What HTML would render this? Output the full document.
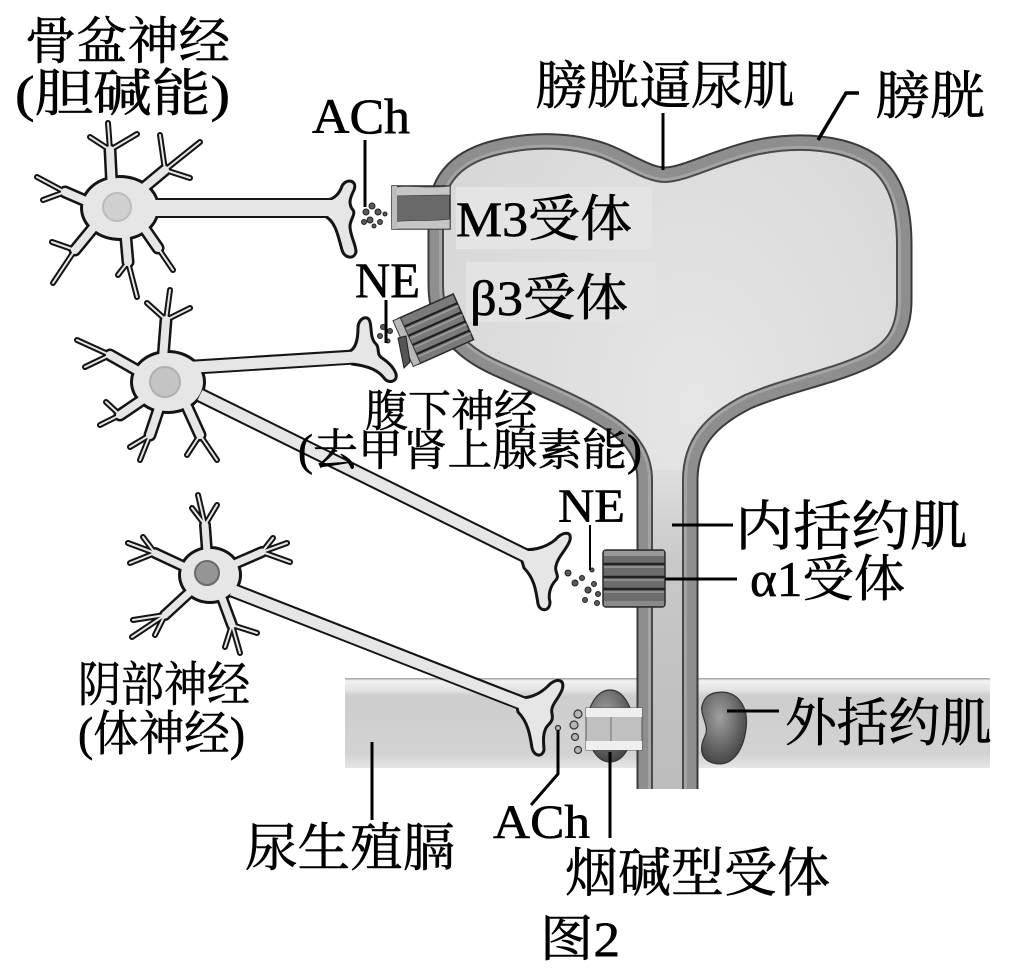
<!DOCTYPE html>
<html><head><meta charset="utf-8">
<style>
html,body{margin:0;padding:0;background:#fff;}
svg{display:block;}
text{font-family:"Liberation Serif","Noto Serif CJK SC",serif;fill:#000;stroke:#000;stroke-width:0.6;}
</style></head><body>
<svg width="1033" height="975" viewBox="0 0 1033 975" xmlns="http://www.w3.org/2000/svg">
<defs>
 <linearGradient id="dia" x1="0" y1="0" x2="0" y2="1">
  <stop offset="0" stop-color="#9a9a9a"/>
  <stop offset="0.03" stop-color="#f2f2f2"/>
  <stop offset="0.13" stop-color="#e4e4e4"/>
  <stop offset="0.2" stop-color="#cdcdcd"/>
  <stop offset="0.85" stop-color="#d3d3d3"/>
  <stop offset="1" stop-color="#e6e6e6"/>
 </linearGradient>
 <linearGradient id="ure" x1="0" y1="0" x2="0" y2="1">
  <stop offset="0" stop-color="#dedede"/>
  <stop offset="0.3" stop-color="#c8c8c8"/>
  <stop offset="1" stop-color="#bcbcbc"/>
 </linearGradient>
 <radialGradient id="kid" cx="0.4" cy="0.35" r="0.65">
  <stop offset="0" stop-color="#a0a0a0"/>
  <stop offset="1" stop-color="#474747"/>
 </radialGradient>
 <radialGradient id="blad" cx="0.55" cy="0.4" r="0.6">
  <stop offset="0" stop-color="#e6e6e6"/>
  <stop offset="1" stop-color="#d8d8d8"/>
 </radialGradient>
</defs>

<!-- urogenital diaphragm -->
<rect x="345" y="678" width="645" height="90" fill="url(#dia)"/>

<!-- bladder + urethra -->
<g>
 <path d="M652,790 L652,480 C652,455 640,435 615,418 C585,398 540,380 500,362 C462,345 443,322 443,285 L443,215 C443,180 465,162 500,154 C535,146 570,147 600,157 C625,166 645,182 665,182 C685,182 715,165 755,155 C800,145 845,150 870,168 C892,185 897,215 897,245 L897,300 C897,330 885,345 862,355 C830,370 785,378 745,395 C705,415 683,440 683,480 L683,790 Z" fill="none" stroke="#3a3a3a" stroke-width="31" stroke-linejoin="round"/>
 <path d="M652,790 L652,480 C652,455 640,435 615,418 C585,398 540,380 500,362 C462,345 443,322 443,285 L443,215 C443,180 465,162 500,154 C535,146 570,147 600,157 C625,166 645,182 665,182 C685,182 715,165 755,155 C800,145 845,150 870,168 C892,185 897,215 897,245 L897,300 C897,330 885,345 862,355 C830,370 785,378 745,395 C705,415 683,440 683,480 L683,790 Z" fill="none" stroke="#8e8e8e" stroke-width="27" stroke-linejoin="round"/>
 <path d="M652,790 L652,480 C652,455 640,435 615,418 C585,398 540,380 500,362 C462,345 443,322 443,285 L443,215 C443,180 465,162 500,154 C535,146 570,147 600,157 C625,166 645,182 665,182 C685,182 715,165 755,155 C800,145 845,150 870,168 C892,185 897,215 897,245 L897,300 C897,330 885,345 862,355 C830,370 785,378 745,395 C705,415 683,440 683,480 L683,790 Z" fill="none" stroke="#a4a4a4" stroke-width="8" stroke-linejoin="round"/>
 <path d="M652,790 L652,480 C652,455 640,435 615,418 C585,398 540,380 500,362 C462,345 443,322 443,285 L443,215 C443,180 465,162 500,154 C535,146 570,147 600,157 C625,166 645,182 665,182 C685,182 715,165 755,155 C800,145 845,150 870,168 C892,185 897,215 897,245 L897,300 C897,330 885,345 862,355 C830,370 785,378 745,395 C705,415 683,440 683,480 L683,790 Z" fill="url(#blad)" stroke="none"/>
 <rect x="652" y="470" width="31" height="320" fill="url(#ure)"/>
 <rect x="456" y="187" width="196" height="62" fill="#e4e4e4"/>
 <rect x="466" y="262" width="190" height="60" fill="#e3e3e3"/>
 <path d="M652,790 L652,480 C652,455 640,435 615,418 C585,398 540,380 500,362 C462,345 443,322 443,285 L443,215 C443,180 465,162 500,154 C535,146 570,147 600,157 C625,166 645,182 665,182 C685,182 715,165 755,155 C800,145 845,150 870,168 C892,185 897,215 897,245 L897,300 C897,330 885,345 862,355 C830,370 785,378 745,395 C705,415 683,440 683,480 L683,790" fill="none" stroke="#4a4a4a" stroke-width="2"/>
 <rect x="620" y="789" width="95" height="22" fill="#fff"/>
</g>

<!-- external sphincter -->
<ellipse cx="610" cy="726" rx="23" ry="36" fill="url(#kid)" stroke="#333" stroke-width="1.2"/>
<path d="M714,693 C737,688 749,706 746,729 C743,752 731,768 713,763 C699,759 700,746 705,736 C710,726 700,716 702,706 C704,698 708,695 714,693 Z" fill="url(#kid)" stroke="#333" stroke-width="1.2"/>

<!-- nicotinic receptor -->
<rect x="586" y="708" width="56" height="42" fill="#c0c0c0" stroke="#555" stroke-width="1"/>
<rect x="586" y="708" width="56" height="9" fill="#efefef"/>
<rect x="586" y="741" width="56" height="9" fill="#efefef"/>
<line x1="611" y1="717" x2="611" y2="741" stroke="#888" stroke-width="1.5"/>

<!-- alpha1 receptor -->
<g>
 <rect x="603" y="550" width="62" height="57" rx="3" fill="#6d6d6d" stroke="#2c2c2c" stroke-width="1.5"/>
 <rect x="604" y="551" width="60" height="5" fill="#999"/>
 <path d="M603,564 H665 M603,577 H665 M603,589 H665" stroke="#222" stroke-width="2.5"/>
 <path d="M604,567 H664 M604,580 H664 M604,592 H664" stroke="#9a9a9a" stroke-width="1.5"/>
 <rect x="604" y="601" width="60" height="5" fill="#8a8a8a"/>
</g>

<!-- M3 receptor -->
<g>
 <rect x="392" y="186" width="58" height="43" fill="#696969" stroke="#2c2c2c" stroke-width="1.5"/>
 <path d="M392,188 C405,184 430,189 450,186 L450,195 L392,196 Z" fill="#c6c6c6" stroke="#444" stroke-width="0.8"/>
 <path d="M392,222 C410,219 430,222 450,219 L450,229 L392,229 Z" fill="#c6c6c6" stroke="#444" stroke-width="0.8"/>
 <rect x="392" y="186" width="5" height="43" fill="#bdbdbd"/>
</g>

<!-- beta3 receptor -->
<g transform="translate(436,329) rotate(-24)">
 <rect x="-30" y="-25" width="60" height="50" fill="#7a7a7a" stroke="#2a2a2a" stroke-width="1.5"/>
 <path d="M-30,-15 H30 M-30,-5 H30 M-30,5 H30 M-30,15 H30" stroke="#1e1e1e" stroke-width="2.2"/>
 <path d="M-30,-12 H30 M-30,-2 H30 M-30,8 H30 M-30,18 H30" stroke="#a5a5a5" stroke-width="1.2"/>
 <rect x="-36" y="-25" width="8" height="50" fill="#b8b8b8" stroke="#333" stroke-width="1"/>
</g>
<path d="M398,338 L406,336 L410,362 L404,368 Z" fill="#555" stroke="#222" stroke-width="1"/>

<!-- Neurons: dark layer -->
<g stroke-linecap="round" stroke-linejoin="round" fill="none" stroke="#141414">
 <path d="M112,190 L110,150 M135,195 L165,170 M95,205 L65,192 M98,222 L75,250 M125,228 L128,262 M140,222 L158,248" stroke-width="13"/>
 <path d="M110,150 L108,123 M110,150 L90,137 M110,150 L137,134 M165,170 L200,142 M165,170 L160,135 M165,170 L190,178 M65,192 L37,177 M65,192 L43,200 M75,250 L53,283 M75,250 L52,242 M128,262 L137,297 M128,262 L118,275 M158,248 L173,270" stroke-width="6"/>
 <path d="M140,208 L332,208" stroke-width="20" stroke-linecap="butt"/>
 <path d="M163,358 L166,320 M140,372 L110,355 M145,398 L120,415 M160,405 L150,435 M185,402 L200,435" stroke-width="13"/>
 <path d="M166,320 L170,290 M166,320 L147,303 M166,320 L190,308 M110,355 L77,340 M110,355 L85,367 M120,415 L100,425 M120,415 L106,402 M150,435 L140,460 M150,435 L130,447 M200,435 L217,460 M200,435 L187,455" stroke-width="6"/>
 <path d="M180,368 L354,357" stroke-width="15" stroke-linecap="butt"/>
 <path d="M200,395 L528,557" stroke-width="15" stroke-linecap="butt"/>
 <path d="M207,552 L205,525 M185,567 L155,553 M232,565 L262,552 M190,592 L165,615 M222,598 L232,625" stroke-width="12"/>
 <path d="M205,525 L198,495 M205,525 L192,508 M205,525 L217,505 M155,553 L128,543 M155,553 L130,563 M155,553 L143,537 M262,552 L287,543 M262,552 L290,562 M262,552 L273,538 M165,615 L132,637 M165,615 L133,620 M165,615 L155,635 M232,625 L240,653 M232,625 L257,633 M232,625 L225,647" stroke-width="6"/>
 <path d="M232,590 L524,704" stroke-width="15" stroke-linecap="butt"/>
</g>
<ellipse cx="120" cy="208" rx="40" ry="33" fill="#141414"/>
<ellipse cx="168" cy="382" rx="38" ry="32" fill="#141414"/>
<ellipse cx="210" cy="575" rx="32" ry="29" fill="#141414"/>

<!-- terminals -->
<g fill="#e6e6e6" stroke="#141414" stroke-width="3" stroke-linejoin="round">
 <path d="M325,200 C335,200 340,192 342,186 C346,178 358,180 354,190 C350,198 348,204 353,210 C356,214 350,220 350,226 C350,236 356,244 356,252 C354,260 344,258 342,250 C338,236 336,222 325,216 Z"/>
 <path d="M350,351 C356,348 358,338 358,328 C358,318 368,314 370,322 C372,330 370,338 376,344 C380,348 376,354 382,358 C388,362 394,368 396,374 C398,382 388,384 384,378 C378,370 368,366 352,364 Z"/>
 <path d="M518,548 C530,552 545,548 555,540 C562,532 572,530 570,540 C568,548 558,556 556,566 C554,572 560,575 556,580 C550,586 548,595 550,602 C550,612 540,612 538,604 C536,590 534,578 524,568 Z"/>
 <path d="M515,697 C528,700 540,694 548,686 C555,678 566,678 562,690 C558,700 550,705 552,714 C554,722 548,724 546,728 C542,736 544,745 544,750 C542,758 534,756 532,748 C530,735 528,722 518,712 Z"/>
</g>

<!-- Neurons: light layer -->
<g stroke-linecap="round" stroke-linejoin="round" fill="none" stroke="#e6e6e6">
 <path d="M112,190 L110,150 M135,195 L165,170 M95,205 L65,192 M98,222 L75,250 M125,228 L128,262 M140,222 L158,248" stroke-width="8"/>
 <path d="M110,150 L108,123 M110,150 L90,137 M110,150 L137,134 M165,170 L200,142 M165,170 L160,135 M165,170 L190,178 M65,192 L37,177 M65,192 L43,200 M75,250 L53,283 M75,250 L52,242 M128,262 L137,297 M128,262 L118,275 M158,248 L173,270" stroke-width="2"/>
 <path d="M140,208 L334,208" stroke-width="16" stroke-linecap="butt"/>
 <path d="M163,358 L166,320 M140,372 L110,355 M145,398 L120,415 M160,405 L150,435 M185,402 L200,435" stroke-width="8"/>
 <path d="M166,320 L170,290 M166,320 L147,303 M166,320 L190,308 M110,355 L77,340 M110,355 L85,367 M120,415 L100,425 M120,415 L106,402 M150,435 L140,460 M150,435 L130,447 M200,435 L217,460 M200,435 L187,455" stroke-width="2"/>
 <path d="M180,368 L356,357" stroke-width="11" stroke-linecap="butt"/>
 <path d="M200,395 L530,558" stroke-width="11" stroke-linecap="butt"/>
 <path d="M207,552 L205,525 M185,567 L155,553 M232,565 L262,552 M190,592 L165,615 M222,598 L232,625" stroke-width="7"/>
 <path d="M205,525 L198,495 M205,525 L192,508 M205,525 L217,505 M155,553 L128,543 M155,553 L130,563 M155,553 L143,537 M262,552 L287,543 M262,552 L290,562 M262,552 L273,538 M165,615 L132,637 M165,615 L133,620 M165,615 L155,635 M232,625 L240,653 M232,625 L257,633 M232,625 L225,647" stroke-width="2"/>
 <path d="M232,590 L526,705" stroke-width="11" stroke-linecap="butt"/>
</g>
<ellipse cx="120" cy="208" rx="37" ry="30" fill="#e6e6e6"/>
<ellipse cx="168" cy="382" rx="35" ry="29" fill="#e6e6e6"/>
<ellipse cx="210" cy="575" rx="29" ry="26" fill="#e6e6e6"/>
<circle cx="117" cy="207" r="14" fill="#d0d0d0" stroke="#bcbcbc" stroke-width="2"/>
<circle cx="165" cy="382" r="15" fill="#c4c4c4" stroke="#b0b0b0" stroke-width="2"/>
<circle cx="207" cy="573" r="12" fill="#959595" stroke="#6a6a6a" stroke-width="2"/>

<!-- transmitter particles -->
<g fill="#5a5a5a" stroke="#222" stroke-width="1">
 <circle cx="366" cy="212" r="3"/><circle cx="372" cy="206" r="3"/><circle cx="378" cy="212" r="3"/>
 <circle cx="370" cy="220" r="3"/><circle cx="380" cy="222" r="2.5"/><circle cx="364" cy="222" r="2.5"/>
 <circle cx="385" cy="214" r="2"/><circle cx="374" cy="226" r="2"/>
 <circle cx="383" cy="327" r="2.5"/><circle cx="380" cy="336" r="2.5"/><circle cx="390" cy="331" r="2.5"/><circle cx="388" cy="341" r="2"/>
 <circle cx="568" cy="573" r="3"/><circle cx="575" cy="583" r="3"/><circle cx="582" cy="578" r="2.5"/>
 <circle cx="588" cy="590" r="3"/><circle cx="594" cy="584" r="2.5"/><circle cx="585" cy="600" r="2.5"/>
 <circle cx="597" cy="603" r="2.5"/><circle cx="592" cy="570" r="2"/><circle cx="598" cy="594" r="2.5"/>
</g>
<g fill="#b5b5b5" stroke="#333" stroke-width="1.2">
 <circle cx="578" cy="714" r="4"/><circle cx="574" cy="725" r="4"/><circle cx="575" cy="737" r="3.5"/><circle cx="578" cy="750" r="3.5"/>
 <circle cx="558" cy="728" r="2.5"/>
</g>

<!-- leader lines -->
<g stroke="#000" fill="none" stroke-width="3">
 <path d="M365,140 L365,207"/>
 <path d="M386,300 L386,343"/>
 <path d="M663,113 L663,170"/>
 <path d="M859,93 L846,93 L818,140" stroke-width="3.5"/>
 <path d="M590,525 L590,570" stroke-width="2"/>
 <path d="M672,525 L733,525"/>
 <path d="M665,579 L737,579"/>
 <path d="M727,711 L779,711"/>
 <path d="M372,742 L372,820"/>
 <path d="M558,730 L558,774 L531,805"/>
 <path d="M610,752 L610,838"/>
</g>

<!-- labels -->
<text x="25" y="59" font-size="51" textLength="205" lengthAdjust="spacingAndGlyphs">骨盆神经</text>
<text x="15" y="111" font-size="51" textLength="215" lengthAdjust="spacingAndGlyphs">(胆碱能)</text>
<text x="312" y="133" font-size="50" textLength="98" lengthAdjust="spacingAndGlyphs">ACh</text>
<text x="535" y="104" font-size="52" textLength="260" lengthAdjust="spacingAndGlyphs">膀胱逼尿肌</text>
<text x="875" y="114" font-size="52" textLength="110" lengthAdjust="spacingAndGlyphs">膀胱</text>
<text x="456" y="236" font-size="50" textLength="176" lengthAdjust="spacingAndGlyphs">M3受体</text>
<text x="355" y="297" font-size="50" textLength="65" lengthAdjust="spacingAndGlyphs">NE</text>
<text x="470" y="315" font-size="50" textLength="158" lengthAdjust="spacingAndGlyphs">β3受体</text>
<text x="365" y="426" font-size="44" textLength="172" lengthAdjust="spacingAndGlyphs">腹下神经</text>
<text x="298" y="465" font-size="44" textLength="344" lengthAdjust="spacingAndGlyphs">(去甲肾上腺素能)</text>
<text x="558" y="522" font-size="48" textLength="67" lengthAdjust="spacingAndGlyphs">NE</text>
<text x="735" y="545" font-size="54" textLength="233" lengthAdjust="spacingAndGlyphs">内括约肌</text>
<text x="750" y="596" font-size="50" textLength="155" lengthAdjust="spacingAndGlyphs">α1受体</text>
<text x="78" y="701" font-size="48" textLength="172" lengthAdjust="spacingAndGlyphs">阴部神经</text>
<text x="78" y="750" font-size="48" textLength="167" lengthAdjust="spacingAndGlyphs">(体神经)</text>
<text x="785" y="741" font-size="52" textLength="207" lengthAdjust="spacingAndGlyphs">外括约肌</text>
<text x="245" y="866" font-size="52" textLength="210" lengthAdjust="spacingAndGlyphs">尿生殖膈</text>
<text x="493" y="838" font-size="48" textLength="97" lengthAdjust="spacingAndGlyphs">ACh</text>
<text x="565" y="891" font-size="53" textLength="265" lengthAdjust="spacingAndGlyphs">烟碱型受体</text>
<text x="540" y="956" font-size="50" textLength="80" lengthAdjust="spacingAndGlyphs">图2</text>
</svg>
</body></html>
